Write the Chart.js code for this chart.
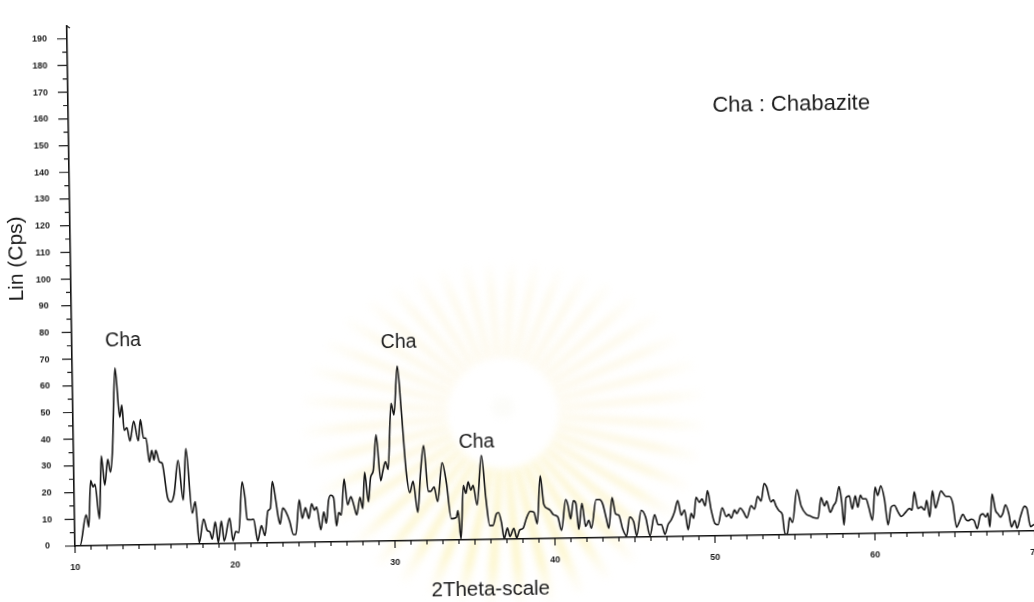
<!DOCTYPE html>
<html>
<head>
<meta charset="utf-8">
<title>XRD pattern – Chabazite</title>
<script src="https://cdn.jsdelivr.net/npm/chart.js@4.4.0/dist/chart.umd.min.js"></script>
<style>
  html, body { margin: 0; padding: 0; background: #fff; overflow: hidden; width: 1034px; height: 602px; }
  #wrap { position: absolute; left: 0; top: 0; width: 1060px; height: 620px;
          transform-origin: 75px 546px; transform: rotate(-0.9deg); }
  canvas { display: block; }
</style>
</head>
<body>
<div id="wrap"><canvas id="xrd" width="1060" height="620"></canvas></div>
<script>
// Diffraction angle (degrees 2θ)
const twoTheta = [10.00,10.31,10.73,10.88,11.04,11.19,11.31,11.56,11.73,11.92,12.13,12.29,12.44,12.67,12.92,13.06,13.19,13.36,13.54,13.79,14.06,14.21,14.39,14.54,14.73,14.89,15.02,15.14,15.36,15.52,15.83,16.04,16.25,16.52,16.81,17.02,17.36,17.56,17.77,18.06,18.28,18.44,18.58,18.79,18.96,19.17,19.33,19.69,19.88,20.06,20.25,20.50,20.67,20.78,21.00,21.19,21.42,21.67,21.88,22.09,22.25,22.39,22.59,22.72,22.84,23.02,23.22,23.44,23.66,23.81,24.06,24.23,24.44,24.64,24.83,25.00,25.14,25.38,25.58,25.73,25.89,26.04,26.21,26.36,26.52,26.67,26.88,27.08,27.29,27.46,27.64,27.86,28.02,28.17,28.38,28.54,28.71,28.92,29.17,29.31,29.48,29.64,29.89,30.06,30.31,30.52,30.77,30.98,31.19,31.46,31.67,31.88,32.13,32.29,32.50,32.71,33.02,33.27,33.54,33.86,33.97,34.13,34.33,34.48,34.63,34.79,34.94,35.17,35.48,35.73,35.94,36.14,36.36,36.50,36.67,36.83,37.04,37.19,37.44,37.61,37.81,38.02,38.23,38.48,38.71,38.91,39.14,39.34,39.56,39.73,39.91,40.11,40.21,40.42,40.71,40.84,41.00,41.19,41.34,41.50,41.72,41.93,42.13,42.29,42.61,42.81,43.02,43.23,43.38,43.61,43.81,44.02,44.23,44.48,44.69,44.94,45.11,45.42,45.69,45.94,46.25,46.46,46.67,46.88,47.08,47.29,47.50,47.71,47.92,48.13,48.33,48.54,48.69,48.86,49.06,49.23,49.42,49.58,49.79,50.00,50.21,50.48,50.73,50.89,51.04,51.25,51.39,51.61,51.81,52.02,52.29,52.50,52.71,52.92,53.13,53.27,53.54,53.69,53.86,54.06,54.23,54.38,54.52,54.69,54.86,55.17,55.42,55.73,55.94,56.14,56.46,56.67,56.88,57.02,57.23,57.44,57.61,57.81,57.96,58.08,58.23,58.44,58.61,58.81,58.96,59.13,59.27,59.48,59.64,59.86,60.06,60.21,60.42,60.63,60.83,61.04,61.25,61.46,61.67,61.98,62.19,62.34,62.50,62.71,62.92,63.13,63.27,63.44,63.64,63.81,63.96,64.17,64.48,64.69,64.89,65.11,65.27,65.52,65.69,65.83,66.04,66.22,66.39,66.61,66.77,66.94,67.08,67.19,67.36,67.56,67.71,67.86,68.00,68.19,68.39,68.54,68.75,68.89,69.11,69.38,69.52,69.73,69.89,70.31];

// Intensity, Lin (Cps)
const intensity = [0,0,11.6,7,24.4,22,23,10,33.6,22.6,32.3,27.5,36,66.5,48,52.5,43,44,39,46.4,39,47,40,40,31,35.4,31.7,35.4,31,30.5,17.7,15.9,19,31.4,16.5,35.8,11.6,15.9,0.5,9.3,5,4.5,1.8,8.2,0.5,8.5,1,9.5,1,4.5,4,23,17,9,8.8,9,0.8,6.5,2.8,12,13,23,16,10,7,13,11.5,8,3,3,16,9,13,8.9,14.4,12,13.2,4.6,11.3,7,15.6,17.5,16.5,6,11,10,23.5,13.8,16.8,13.8,10,16.6,12.3,25.9,14.8,24,26.4,39.9,22.6,26.2,29.8,26.8,51.6,47.2,65.5,49,26,18,22.3,10.6,25.8,35.6,18.4,18.4,20,14.5,29,21.6,8,8.5,11,0.3,20.4,17.4,21.7,18.6,20.4,13,31.5,15,5.2,5.2,9.5,10,6.4,0.3,4.2,1,4,0.5,3.4,4,7.6,10.3,10,5.6,23.6,12.8,11.3,10.6,9,8.5,7.9,3,14.5,12.5,7.2,14,13,3.2,13,4.3,6.6,3.6,14.3,14.3,12.6,7.1,3.5,15,8.9,8.3,3.4,0.5,7.6,5.7,0.5,10,7.4,0.5,8.3,4.6,4.6,0.9,4.5,6.3,9.3,13.5,8,9.9,2.5,8.6,6.7,14.6,12.7,13.9,11.3,17,9.8,4.8,4.2,10.5,7.2,8,6.6,9.6,8.3,10.3,8.8,6.6,11.1,9.8,14.6,12.8,19.4,18.2,12.4,13.2,10.7,8.9,7.7,0.3,0.3,6.4,4.6,16.8,10.7,7.6,7,6.4,6,13.7,10.6,12.4,8.2,10.6,12.4,17.8,11.8,3.3,13.6,14.2,9.3,14.2,9.9,14.4,13,13,9.9,5,17.3,14.2,17.8,12.8,3.1,9.8,10.4,8,6.2,8,9.2,8.5,15.3,9.1,9.7,8.5,12.1,5.8,15.6,9.2,11.6,15.5,13.4,13.4,11,1.8,3.6,6.6,4.8,4.2,4.8,4.2,1.2,6.1,6.7,5.5,6.9,1.8,14,7.9,6.6,5.4,6.5,9.9,6.5,1.6,4,1.1,5.4,9.3,8.5,1.6,2.2,3];

// Axis tick labels
const xTickLabels = [10, 20, 30, 40, 50, 60, 70];
const yTickLabels = [0, 10, 20, 30, 40, 50, 60, 70, 80, 90, 100, 110, 120, 130, 140, 150, 160, 170, 180, 190];

// Phase markers (text, 2θ, Lin) and the phase key
const peakNoteText = ['Cha', 'Cha', 'Cha'];
const peakNoteTheta = [13.2, 30.42, 35.19];
const peakNoteLin = [76.6, 74.2, 36.5];
const phaseKey = 'Cha : Chabazite';
const phaseKeyTheta = 55.19;
const phaseKeyLin = 161;

const FONT = '"Liberation Sans", Arial, Helvetica, sans-serif';
const INK = '#1b1b1b';

// Faint university sunburst emblem printed behind the plot
function drawEmblem(ctx, cx, cy) {
  ctx.save();
  ctx.filter = 'blur(3.5px)';
  const rays = 40;
  for (let i = 0; i < rays; i++) {
    const ang = (i + 0.5) / rays * Math.PI * 2;
    const half = Math.PI / rays;
    const s = Math.sin(ang);
    const ry = s < 0 ? 150 : 195;
    const rOut = 1 / Math.sqrt(Math.pow(Math.cos(ang) / 200, 2) + Math.pow(s / ry, 2));
    const rIn = 56;
    const lower = Math.max(0, s);
    const g = ctx.createRadialGradient(cx, cy, rIn, cx, cy, rOut);
    g.addColorStop(0, `rgba(248, 228, ${165 - 50 * lower}, ${0.34 + 0.2 * lower})`);
    g.addColorStop(0.7, `rgba(249, 232, ${175 - 50 * lower}, ${0.26 + 0.18 * lower})`);
    g.addColorStop(1, `rgba(250, 238, 190, 0.05)`);
    ctx.fillStyle = g;
    ctx.beginPath();
    ctx.moveTo(cx + rIn * Math.cos(ang - half * 0.45), cy + rIn * Math.sin(ang - half * 0.45));
    ctx.lineTo(cx + rOut * Math.cos(ang - half * 0.3), cy + rOut * Math.sin(ang - half * 0.3));
    ctx.lineTo(cx + rOut * Math.cos(ang + half * 0.3), cy + rOut * Math.sin(ang + half * 0.3));
    ctx.lineTo(cx + rIn * Math.cos(ang + half * 0.45), cy + rIn * Math.sin(ang + half * 0.45));
    ctx.closePath();
    ctx.fill();
  }
  ctx.fillStyle = 'rgba(238, 232, 218, 0.15)';
  ctx.beginPath();
  ctx.arc(cx, cy - 6, 11, 0, Math.PI * 2);
  ctx.fill();
  ctx.restore();
}

const decor = {
  id: 'decor',
  beforeDraw(chart) {
    drawEmblem(chart.ctx, 505, 420);
  },
  afterDraw(chart) {
    const { ctx, chartArea: a, scales: { x, y } } = chart;
    ctx.save();
    ctx.strokeStyle = INK;
    ctx.lineWidth = 1.2;
    ctx.beginPath();
    // 2θ ticks: every degree, longer every 5 and 10
    for (let v = 10; v <= 70; v++) {
      const px = x.getPixelForValue(v);
      const len = v % 10 === 0 ? 7 : (v % 5 === 0 ? 5 : 4);
      ctx.moveTo(px, a.bottom);
      ctx.lineTo(px, a.bottom + len);
    }
    // intensity ticks: every 5, longer every 10
    for (let v = 0; v <= 190; v += 5) {
      const py = y.getPixelForValue(v);
      const len = v % 10 === 0 ? 10 : 5;
      ctx.moveTo(a.left, py);
      ctx.lineTo(a.left - len, py);
    }
    // small hook at the top of the intensity axis
    ctx.moveTo(a.left, a.top + 0.5);
    ctx.lineTo(a.left + 3, a.top + 2.5);
    ctx.stroke();

    ctx.fillStyle = INK;
    ctx.textAlign = 'center';
    ctx.textBaseline = 'middle';

    // axis titles
    ctx.font = `21px ${FONT}`;
    ctx.save();
    ctx.translate(21.5, 258);
    ctx.rotate(-Math.PI / 2);
    ctx.fillText('Lin (Cps)', 0, 0);
    ctx.restore();
    ctx.font = `20.5px ${FONT}`;
    ctx.fillText('2Theta-scale', 490, 596);

    // phase markers above the peaks
    ctx.font = `19.5px ${FONT}`;
    peakNoteText.forEach((t, i) => {
      ctx.fillText(t, x.getPixelForValue(peakNoteTheta[i]), y.getPixelForValue(peakNoteLin[i]));
    });
    ctx.font = `22px ${FONT}`;
    ctx.fillText(phaseKey, x.getPixelForValue(phaseKeyTheta), y.getPixelForValue(phaseKeyLin));
    ctx.restore();
  }
};

new Chart(document.getElementById('xrd'), {
  type: 'line',
  data: {
    datasets: [{
      data: twoTheta.map((t, i) => ({ x: t, y: intensity[i] })),
      borderColor: '#141414',
      borderWidth: 1.6,
      pointRadius: 0,
      fill: false,
      cubicInterpolationMode: 'monotone'
    }]
  },
  options: {
    responsive: false,
    animation: false,
    devicePixelRatio: 1,
    events: [],
    layout: { padding: { top: 13, right: 17, left: 0, bottom: 0 } },
    plugins: { legend: { display: false }, tooltip: { enabled: false } },
    scales: {
      x: {
        type: 'linear',
        min: 10,
        max: 70.5,
        grid: { display: false, drawTicks: false },
        border: { display: true, color: '#111', width: 1.6 },
        ticks: {
          color: INK, padding: 16.5, maxRotation: 0, autoSkip: false,
          font: { family: FONT, size: 9, weight: 'bold' }
        },
        afterBuildTicks: s => { s.ticks = xTickLabels.map(v => ({ value: v })); },
        afterFit: s => { s.height = 74; }
      },
      y: {
        type: 'linear',
        min: 0,
        max: 195,
        grid: { display: false, drawTicks: false },
        border: { display: true, color: '#111', width: 1.6 },
        ticks: {
          color: INK, padding: 20, crossAlign: 'center',
          font: { family: FONT, size: 9, weight: 'bold' }
        },
        afterBuildTicks: s => { s.ticks = yTickLabels.map(v => ({ value: v })); },
        afterFit: s => { s.width = 75; }
      }
    }
  },
  plugins: [decor]
});
</script>
</body>
</html>
